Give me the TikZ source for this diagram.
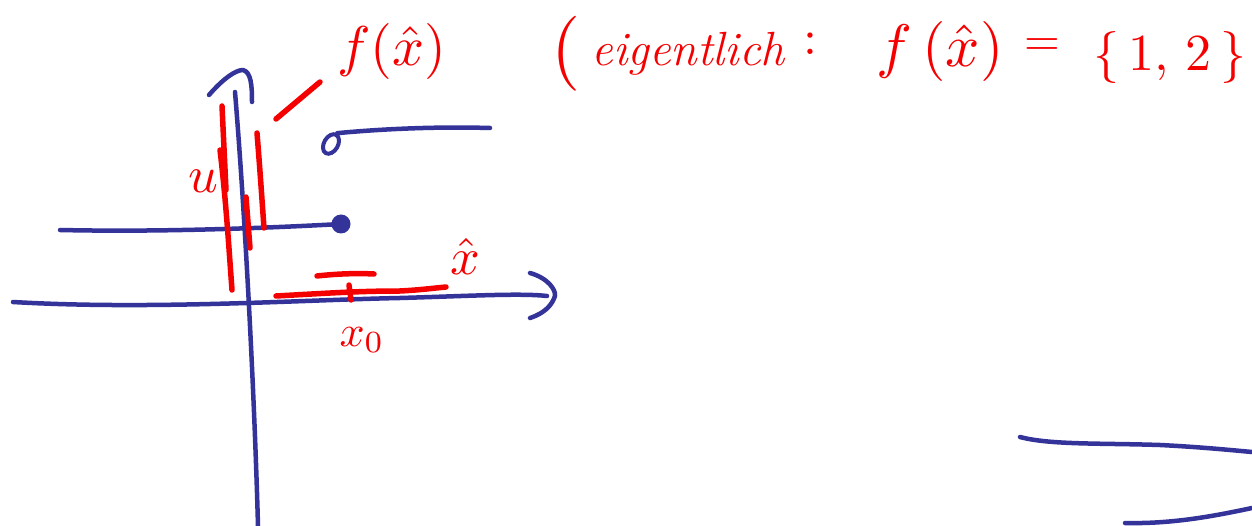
\documentclass[tikz,border=0pt]{standalone}
\usepackage{graphicx}
\usepackage{amsmath}
\usetikzlibrary{shapes.geometric}
\definecolor{inkblue}{RGB}{51,51,153}
\definecolor{inkred}{RGB}{245,0,0}
\newcommand{\skm}[2]{\scalebox{#1}{$#2$}}
\tikzset{
  bluestroke/.style={draw=inkblue,line width=4.5pt,line cap=round,line join=round},
  redstroke/.style={draw=inkred,line width=5.5pt,line cap=round,line join=round},
  redtext/.style={text=inkred,inner sep=0pt,font=\normalsize},
}
\begin{document}
\begin{tikzpicture}[x=1pt,y=-1pt]
\useasboundingbox (0,0) rectangle (1252,526);
% axes
\coordinate (yb) at (258,526);
\coordinate (yt) at (235,92);
\draw[bluestroke] (yb) .. controls (254,380) and (244,200) .. (yt);
\draw[bluestroke] (209,95) .. controls (222,80) and (235,70) .. (243,70) .. controls (251,72) and (252,85) .. (252,102);
\coordinate (xl) at (13,302);
\coordinate (xr) at (547,296);
\draw[bluestroke] (xl) .. controls (150,310) and (300,300) .. (400,298) .. controls (470,296) and (520,293) .. (xr);
\draw[bluestroke] (530,273) .. controls (548,278) and (556,290) .. (555,296) .. controls (552,305) and (545,313) .. (530,318);
% function graph
\node[circle,fill=inkblue,inner sep=0pt,minimum size=19pt] (dot) at (341,224) {};
\coordinate (ll) at (60,230);
\draw[bluestroke] (ll) .. controls (150,232) and (250,229) .. (dot.center);
\node[ellipse,draw=inkblue,line width=4pt,inner sep=0pt,minimum width=14pt,minimum height=21pt,rotate=-30] (ring) at (331,144) {};
\coordinate (ur) at (490,128);
\draw[bluestroke] (ring.north) .. controls (360,131) and (420,126) .. (ur);
% bottom right strokes
\draw[bluestroke] (1020,437) .. controls (1050,445) and (1100,443) .. (1160,445) .. controls (1200,447) and (1230,450) .. (1252,452);
\draw[bluestroke] (1125,523) .. controls (1170,524) and (1210,517) .. (1252,508);
% red marks near y-axis
\draw[redstroke] (222,106) -- (226,190);
\draw[redstroke] (220,150) .. controls (226,200) and (229,250) .. (232,290);
\draw[redstroke] (257,133) .. controls (260,170) and (262,200) .. (264,228);
\draw[redstroke] (246,197) -- (250,248);
\draw[redstroke] (276,119) -- (320,82);
% red marks near x-axis
\draw[redstroke] (276,296) .. controls (330,293) and (360,291) .. (400,291) .. controls (420,290) and (435,288) .. (446,287);
\draw[redstroke] (317,276) .. controls (335,274) and (355,273) .. (374,274);
\draw[redstroke] (349,285) -- (351,300);
% labels
\node[redtext] (fx) at (392,52) {\skm{5.6}{f(\hat{x})}};
\node[redtext] (u) at (203,181) {\skm{5.2}{u}};
\node[redtext] (xhat) at (465,256) {\skm{5.2}{\hat{x}}};
\node[redtext] (x0) at (362,340) {\skm{4.4}{x_{0}}};
% top remark
\node[redtext] (lp) at (566,54) {\skm{7.5}{(}};
\node[redtext,font=\fontsize{48}{54}\itshape\selectfont] (eig) at (688,54) {eigentlich};
\node[redtext] (colon) at (810,44) {\skm{5}{:}};
\node[redtext] (fx2) at (940,52) {\skm{6}{f\,(\hat{x})}};
\node[redtext] (eq) at (1042,47) {\skm{4.6}{=}};
\node[redtext] (set) at (1170,58) {\skm{5.2}{\{\,1,\,2\,\}}};
\end{tikzpicture}
\end{document}
